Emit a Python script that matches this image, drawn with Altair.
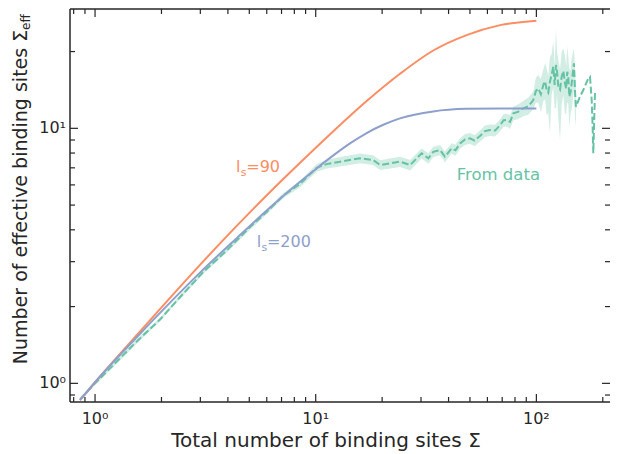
import altair as alt
import pandas as pd

# ---------------- data ----------------
# theory curve l_s = 90 (orange)
ls90_x = [0.855, 1.0, 1.545, 2.187, 2.99, 4.385, 6.21, 8.49, 12.02, 17.02, 24.1, 34.1, 48.3, 68.5, 100.0]
ls90_y = [0.86, 1.01, 1.545, 2.164, 2.915, 4.143, 5.63, 7.323, 9.741, 12.79, 16.36, 20.19, 23.21, 25.39, 26.42]

# theory curve l_s = 200 (blue)
ls200_x = [0.855, 1.0, 1.545, 2.187, 2.99, 4.385, 6.21, 8.49, 10.03, 12.02, 14.3, 17.02, 20.24, 24.1, 34.1, 48.3, 68.5, 100.0]
ls200_y = [0.86, 1.01, 1.516, 2.073, 2.718, 3.710, 4.891, 6.174, 6.932, 7.830, 8.727, 9.585, 10.33, 10.94, 11.65, 11.92, 11.97, 11.97]

# measured curve (green dashed)
data_x = [0.855, 1.0, 1.21, 1.545, 1.97, 2.43, 3.10, 3.95, 5.04, 6.0, 7.13, 8.49, 10.1, 11.2, 12.9,
          15.9, 18.2, 19.6, 21.7, 24.1, 26.8, 28.7, 30.2, 32.4, 34.1, 36.6, 38.5, 41.3, 43.0, 45.1,
          47.5, 50.0, 52.5, 55.5, 58.5, 61.6, 65.0, 68.5, 71.0, 73.4, 76.0, 78.6, 82.5, 87.2, 92.0,
          96.8, 99.5, 102.0, 104.8, 107.5, 109.5, 111.4, 113.2, 115.2, 117.2, 119.3, 121.0, 122.7,
          124.0, 125.7, 128.0, 130.2, 132.5, 134.8, 136.5, 138.0, 139.5, 141.0, 143.0, 144.5, 146.3,
          148.0, 149.6, 151.1, 157.6, 163.2, 171.9, 175.0, 178.1, 179.9, 181.1, 184.4]
data_y = [0.865, 1.0, 1.18, 1.46, 1.78, 2.18, 2.74, 3.32, 4.10, 4.70, 5.45, 6.05, 7.0, 7.24, 7.40,
          7.63, 7.51, 7.18, 7.29, 7.40, 7.18, 7.63, 7.98, 7.63, 8.09, 8.22, 7.74, 8.35, 8.20, 8.73,
          9.05, 9.14, 8.95, 9.33, 9.75, 9.85, 9.80, 10.30, 10.75, 10.78, 10.60, 11.45, 11.60, 11.97, 12.20,
          12.91, 14.0, 14.35, 13.6, 14.78, 15.3, 14.13, 13.8, 15.23, 16.2, 17.44, 14.8, 17.71,
          16.8, 14.56, 14.2, 15.93, 16.8, 15.01, 14.3, 16.67, 15.9, 13.30, 13.9, 15.01, 16.5,
          17.98, 14.13, 12.15, 13.30, 14.13, 15.71, 15.93, 12.91, 10.15, 7.98, 13.92]

# confidence band of the measured curve (only up to x = 151.1)
band_x = [x for x in data_x if x <= 151.1]
band_lo = [0.85, 0.985, 1.16, 1.43, 1.75, 2.14, 2.69, 3.26, 4.00, 4.60, 5.32, 5.88, 6.75, 6.95, 7.08,
           7.30, 7.18, 6.86, 6.96, 7.06, 6.84, 7.28, 7.62, 7.27, 7.72, 7.84, 7.36, 7.96, 7.80, 8.32,
           8.60, 8.70, 8.50, 8.86, 9.25, 9.34, 9.28, 9.74, 10.15, 10.16, 9.95, 10.75, 10.85, 11.15, 11.30,
           11.90, 12.6, 12.6, 11.6, 12.8, 13.0, 11.2, 11.5, 9.6, 13.5, 14.5, 12.0, 12.0,
           13.5, 11.0, 9.0, 12.4, 13.5, 11.3, 11.5, 12.6, 12.5, 10.15, 11.5, 11.8, 13.0,
           14.0, 11.0, 10.2]
band_hi = [0.88, 1.015, 1.20, 1.49, 1.81, 2.22, 2.79, 3.38, 4.20, 4.80, 5.58, 6.22, 7.25, 7.53, 7.72,
           7.96, 7.84, 7.50, 7.62, 7.74, 7.52, 7.98, 8.34, 7.99, 8.46, 8.60, 8.12, 8.74, 8.62, 9.14,
           9.50, 9.58, 9.40, 9.80, 10.25, 10.36, 10.32, 10.86, 11.35, 11.40, 11.25, 12.15, 12.40, 12.80, 13.20,
           13.95, 15.8, 16.2, 15.6, 17.0, 18.0, 17.2, 16.0, 19.0, 19.5, 22.0, 17.5, 24.5,
           20.0, 18.6, 17.0, 20.0, 20.5, 19.2, 17.5, 21.0, 19.0, 17.2, 16.8, 18.8, 19.8,
           20.5, 17.2, 14.4]

# annotation anchors (data coordinates)
ann90_x, ann90_y = 4.35, 6.74
ann200_x, ann200_y = 5.40, 3.41
annData_x, annData_y = 43.55, 6.27

# ticks and tick labels
x_major = [1, 10, 100]
x_major_labels = ["10⁰", "10¹", "10²"]
x_minor = [0.8, 0.9, 2, 3, 4, 5, 6, 7, 8, 9, 20, 30, 40, 50, 60, 70, 80, 90, 200]
y_major = [1, 10]
y_major_labels = ["10⁰", "10¹"]
y_minor = [0.9, 2, 3, 4, 5, 6, 7, 8, 9, 20]

x_title = "Total number of binding sites Σ"
y_title = "Number of effective binding sites Σ"
y_title_sub = "eff"

# ---------------- style ----------------
FONT = "DejaVu Sans"
INK = "#262626"
ORANGE = "#fc8d62"
BLUE = "#8da0cb"
GREEN = "#66c2a5"
W, H = 540, 393

xs = alt.Scale(type="log", domain=[0.770, 215.6], nice=False)
ys = alt.Scale(type="log", domain=[0.845, 29.37], nice=False)


def X(field):
    return alt.X(field, scale=xs, axis=None)


def Y(field):
    return alt.Y(field, scale=ys, axis=None)


green_df = pd.DataFrame({"x": data_x, "y": data_y})
band_df = pd.DataFrame({"x": band_x, "lo": band_lo, "hi": band_hi})
o_df = pd.DataFrame({"x": ls90_x, "y": ls90_y})
b_df = pd.DataFrame({"x": ls200_x, "y": ls200_y})

band = alt.Chart(band_df).mark_area(color=GREEN, opacity=0.3, clip=True).encode(
    x=X("x:Q"), y=Y("lo:Q"), y2="hi:Q")
green = alt.Chart(green_df).mark_line(color=GREEN, strokeWidth=2, strokeDash=[7, 3], clip=True).encode(
    x=X("x:Q"), y=Y("y:Q"))
orange = alt.Chart(o_df).mark_line(color=ORANGE, strokeWidth=2, interpolate="monotone", clip=True).encode(
    x=X("x:Q"), y=Y("y:Q"))
blue = alt.Chart(b_df).mark_line(color=BLUE, strokeWidth=2, interpolate="monotone", clip=True).encode(
    x=X("x:Q"), y=Y("y:Q"))


def point_df(x, y):
    return pd.DataFrame({"x": [x], "y": [y]})


def text_layer(x, y, txt, color, size=16, dx=0, dy=0):
    return alt.Chart(point_df(x, y)).mark_text(
        text=txt, align="left", baseline="alphabetic", font=FONT, fontSize=size,
        color=color, dx=dx, dy=dy
    ).encode(x=X("x:Q"), y=Y("y:Q"))


labels = [
    text_layer(ann90_x, ann90_y, "l", ORANGE),
    text_layer(ann90_x, ann90_y, "s", ORANGE, size=11, dx=4.8, dy=4),
    text_layer(ann90_x, ann90_y, "=90", ORANGE, dx=10.3),
    text_layer(ann200_x, ann200_y, "l", BLUE),
    text_layer(ann200_x, ann200_y, "s", BLUE, size=11, dx=4.8, dy=4),
    text_layer(ann200_x, ann200_y, "=200", BLUE, dx=10.3),
    text_layer(annData_x, annData_y, "From data", GREEN, size=16.5),
]

one = pd.DataFrame({"a": [0]})

# axis tick labels and titles as text
xlab = alt.Chart(pd.DataFrame({"v": x_major, "t": x_major_labels})).mark_text(
    align="center", baseline="alphabetic", font=FONT, fontSize=16, color=INK).encode(
    x=X("v:Q"), y=alt.value(H + 22), text="t:N")
ylab = alt.Chart(pd.DataFrame({"v": y_major, "t": y_major_labels})).mark_text(
    align="right", baseline="middle", font=FONT, fontSize=16, color=INK).encode(
    y=Y("v:Q"), x=alt.value(-4), text="t:N")
xtitle = alt.Chart(one).mark_text(
    text=x_title, align="center", baseline="alphabetic", font=FONT, fontSize=20, color=INK).encode(
    x=alt.value(256), y=alt.value(H + 45))
ytitle = alt.Chart(one).mark_text(
    text=y_title, angle=270, align="center", baseline="alphabetic", font=FONT, fontSize=19, color=INK).encode(
    x=alt.value(-43), y=alt.value(188))
eff = alt.Chart(one).mark_text(
    text=y_title_sub, angle=270, align="left", baseline="alphabetic", font=FONT, fontSize=12, color=INK).encode(
    x=alt.value(-40), y=alt.value(21))

# frame (spines) and inward ticks
spine_kw = dict(color=INK, strokeWidth=1.5)
spines = [
    alt.Chart(one).mark_rule(**spine_kw).encode(x=alt.value(0), x2=alt.value(W), y=alt.value(0)),
    alt.Chart(one).mark_rule(**spine_kw).encode(x=alt.value(0), x2=alt.value(W), y=alt.value(H)),
    alt.Chart(one).mark_rule(**spine_kw).encode(x=alt.value(0), y=alt.value(0), y2=alt.value(H)),
]


def xticks(vals, length):
    df = pd.DataFrame({"v": vals})
    bottom = alt.Chart(df).mark_rule(color=INK, strokeWidth=1.2).encode(
        x=X("v:Q"), y=alt.value(H), y2=alt.value(H - length))
    top = alt.Chart(df).mark_rule(color=INK, strokeWidth=1.2).encode(
        x=X("v:Q"), y=alt.value(0), y2=alt.value(length))
    return [bottom, top]


def yticks(vals, length):
    df = pd.DataFrame({"v": vals})
    left = alt.Chart(df).mark_rule(color=INK, strokeWidth=1.2).encode(
        y=Y("v:Q"), x=alt.value(0), x2=alt.value(length))
    right = alt.Chart(df).mark_rule(color=INK, strokeWidth=1.2).encode(
        y=Y("v:Q"), x=alt.value(W - length), x2=alt.value(W))
    return [left, right]


ticks = xticks(x_major, 8) + xticks(x_minor, 5) + yticks(y_major, 8) + yticks(y_minor, 5)

chart = alt.layer(
    band, green, orange, blue, *labels, xlab, ylab, xtitle, ytitle, eff, *spines, *ticks
).properties(
    width=W, height=H,
    autosize=alt.AutoSizeParams(type="none"),
    padding={"left": 62, "top": 1, "right": 0, "bottom": 52},
    background="white",
).configure_view(stroke=None)

chart.save("out.html", embed_options={"renderer": "svg", "actions": False})
